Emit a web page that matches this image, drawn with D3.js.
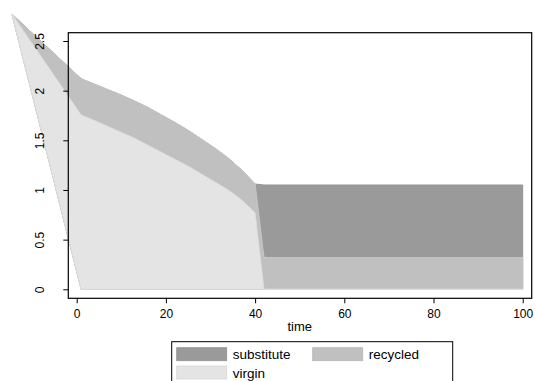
<!DOCTYPE html>
<html>
<head>
<meta charset="utf-8">
<script src="https://cdn.jsdelivr.net/npm/d3@7"></script>
<style>
  html, body { margin: 0; padding: 0; background: #fff; }
  svg { display: block; font-family: "Liberation Sans", Arial, Helvetica, sans-serif; }
</style>
</head>
<body>
<svg id="chart" width="535" height="381"></svg>
<script>
// Rows are kept in their stored order; each band is traced through them in that order.
const time       = [1, -14.5, 1, 4, 7, 10, 13, 16, 19, 22, 25, 28, 31, 34, 37, 40, 42, 100];
const virgin     = [0, 2.77, 1.755, 1.70, 1.64, 1.58, 1.52, 1.45, 1.38, 1.31, 1.24, 1.16, 1.08, 1.0, 0.9, 0.77, 0, 0];
const recycled   = [0, 0, 0.365, 0.365, 0.37, 0.375, 0.375, 0.38, 0.375, 0.37, 0.36, 0.35, 0.34, 0.32, 0.30, 0.29, 0.32, 0.32];
const substitute = [0, 0, 0, 0, 0, 0, 0, 0, 0, 0, 0, 0, 0, 0, 0, 0, 0.73, 0.73];

const xTicks = [0, 20, 40, 60, 80, 100];
const yTicks = [0, 0.5, 1, 1.5, 2, 2.5];

const legendItems = [
  { label: "substitute", color: "#9a9a9a" },
  { label: "recycled",   color: "#c0c0c0" },
  { label: "virgin",     color: "#e4e4e4" }
];

const svg = d3.select("#chart");

const x = d3.scaleLinear().domain([0, 100]).range([76.7, 522.7]);
const y = d3.scaleLinear().domain([0, 2.5]).range([289.3, 41]);

// stacked tops
const stackV = virgin.slice();
const stackR = virgin.map((v, i) => v + recycled[i]);
const stackS = stackR.map((v, i) => v + substitute[i]);

const line = d3.line().x(d => x(d[0])).y(d => y(d[1]));

function bandPolygon(tops) {
  const pts = time.map((t, i) => [t, tops[i]]);
  pts.push([time[time.length - 1], 0]);
  pts.push([time[0], 0]);
  return line(pts) + "Z";
}

const bands = [
  { tops: stackS, fill: legendItems[0].color, stroke: "#949494" },
  { tops: stackR, fill: legendItems[1].color, stroke: "#c6c6c6" },
  { tops: stackV, fill: legendItems[2].color, stroke: "#dcdcdc" }
];

svg.append("g").selectAll("path")
  .data(bands)
  .join("path")
  .attr("d", d => bandPolygon(d.tops))
  .attr("fill", d => d.fill)
  .attr("stroke", d => d.stroke)
  .attr("stroke-width", 1)
  .attr("stroke-linejoin", "round");

// plot region frame
svg.append("rect")
  .attr("x", 68.3).attr("y", 32.7)
  .attr("width", 531.7 - 68.3).attr("height", 298.3 - 32.7)
  .attr("fill", "none").attr("stroke", "#000").attr("stroke-width", 1.2);

// x axis
const gx = svg.append("g")
  .attr("transform", "translate(0,298.3)")
  .call(d3.axisBottom(x).tickValues(xTicks).tickSize(5).tickPadding(6).tickFormat(d3.format("d")));
gx.select(".domain").remove();
gx.selectAll("line").attr("stroke", "#000");
gx.selectAll("text").attr("font-size", 12).attr("fill", "#000").attr("font-family", null);

svg.append("text")
  .attr("x", x(50)).attr("y", 331)
  .attr("text-anchor", "middle")
  .attr("font-size", 13)
  .text("time");

// y axis with labels turned upright along the axis
const gy = svg.append("g")
  .attr("transform", "translate(68.3,0)")
  .call(d3.axisLeft(y).tickValues(yTicks).tickSize(5).tickFormat(d3.format("")));
gy.select(".domain").remove();
gy.selectAll("line").attr("stroke", "#000");
gy.selectAll("text")
  .attr("font-size", 12).attr("fill", "#000").attr("font-family", null)
  .attr("x", null).attr("dy", null)
  .attr("text-anchor", "middle")
  .attr("transform", "translate(-24.3,0) rotate(-90)");

// legend
const lg = svg.append("g");
lg.append("rect")
  .attr("x", 171.7).attr("y", 341.7)
  .attr("width", 281).attr("height", 60)
  .attr("fill", "#fff").attr("stroke", "#000").attr("stroke-width", 1);

const cols = [176.7, 312.7];
const rows = [347.7, 366];
legendItems.forEach((d, i) => {
  const cx = cols[i % 2], cy = rows[Math.floor(i / 2)];
  lg.append("rect")
    .attr("x", cx).attr("y", cy)
    .attr("width", 50).attr("height", 13)
    .attr("fill", d.color)
    .attr("stroke", d3.color(d.color).darker(0.15)).attr("stroke-width", 0.8);
  lg.append("text")
    .attr("x", cx + 56).attr("y", cy + 11.5)
    .attr("font-size", 13.5)
    .text(d.label);
});
</script>
</body>
</html>
